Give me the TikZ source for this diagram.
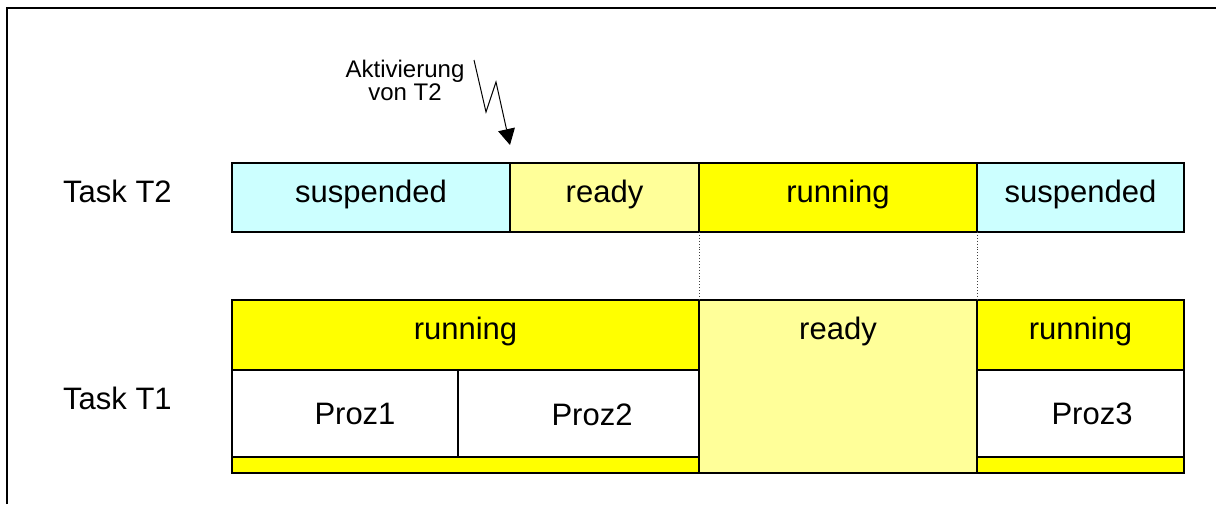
\documentclass[tikz,border=0pt]{standalone}
\usepackage{fontspec}
\setmainfont{Liberation Sans}
\usetikzlibrary{arrows.meta}
\definecolor{suspcol}{HTML}{CCFFFF}
\definecolor{readycol}{HTML}{FFFF99}
\definecolor{runcol}{HTML}{FFFF00}
\begin{document}
\begin{tikzpicture}[x=1pt,y=-1pt,
  cell/.style={draw, line width=1.3pt, inner sep=0pt, outer sep=0pt, anchor=north west,
    font=\fontsize{31}{37}\selectfont, text height=20pt, text depth=11pt},
  lbl/.style={anchor=base, inner sep=0pt, font=\fontsize{31}{37}\selectfont},
  sync/.style={dotted, line width=0.9pt, black!75}]
\useasboundingbox (0,0) rectangle (1216,504);
\fill[white] (0,0) rectangle (1216,504);
% frame
\draw[line width=2pt] (7,504) -- (7,8) -- (1216,8);

% Task T2 timeline
\node[cell, fill=suspcol, minimum width=278pt, minimum height=69pt] (t2susp) at (232,163) {suspended};
\node[cell, fill=readycol, minimum width=189pt, minimum height=69pt] (t2ready) at (510,163) {ready};
\node[cell, fill=runcol, minimum width=278pt, minimum height=69pt] (t2run) at (699,163) {running};
\node[cell, fill=suspcol, minimum width=207pt, minimum height=69pt] (t2susp2) at (977,163) {suspended};

% Task T1 timeline
\node[cell, fill=runcol, minimum width=467pt, minimum height=70pt] (t1run) at (232,300) {running};
\node[cell, fill=white, minimum width=226pt, minimum height=87pt] (p1) at (232,370) {};
\node[cell, fill=white, minimum width=241pt, minimum height=87pt] (p2) at (458,370) {};
\node[cell, fill=runcol, minimum width=467pt, minimum height=16pt, text height=0pt, text depth=0pt] (t1bar) at (232,457) {};
\node[cell, fill=readycol, minimum width=278pt, minimum height=173pt, text height=0pt, text depth=0pt] (t1ready) at (699,300) {};
\node[cell, fill=runcol, minimum width=207pt, minimum height=70pt] (t1run2) at (977,300) {running};
\node[cell, fill=white, minimum width=207pt, minimum height=87pt] (p3) at (977,370) {};
\node[cell, fill=runcol, minimum width=207pt, minimum height=16pt, text height=0pt, text depth=0pt] (t1bar2) at (977,457) {};

% labels
\node[lbl] (t1readylbl) at (838,339) {ready};
\node[lbl] (p1lbl) at (355,424) {Proz1};
\node[lbl] (p2lbl) at (592,425) {Proz2};
\node[lbl] (p3lbl) at (1092,424) {Proz3};
\node[lbl, anchor=base west] (task2) at (63,202) {Task T2};
\node[lbl, anchor=base west] (task1) at (63,409) {Task T1};

% synchronisation lines
\draw[sync] (t2run.south west) -- (t1ready.north west);
\draw[sync] (t2run.south east) -- (t1ready.north east);

% activation event
\node[align=center, inner sep=0pt, font=\fontsize{24}{23}\selectfont] (akt) at (405,80) {Aktivierung\\von T2};
\coordinate (zs) at (474,60);
\coordinate (zt) at (510,145);
\draw[line width=1pt, -{Triangle[width=17pt,length=16pt]}] (zs) -- (486,112) -- (496,82) -- (zt);
\end{tikzpicture}
\end{document}
